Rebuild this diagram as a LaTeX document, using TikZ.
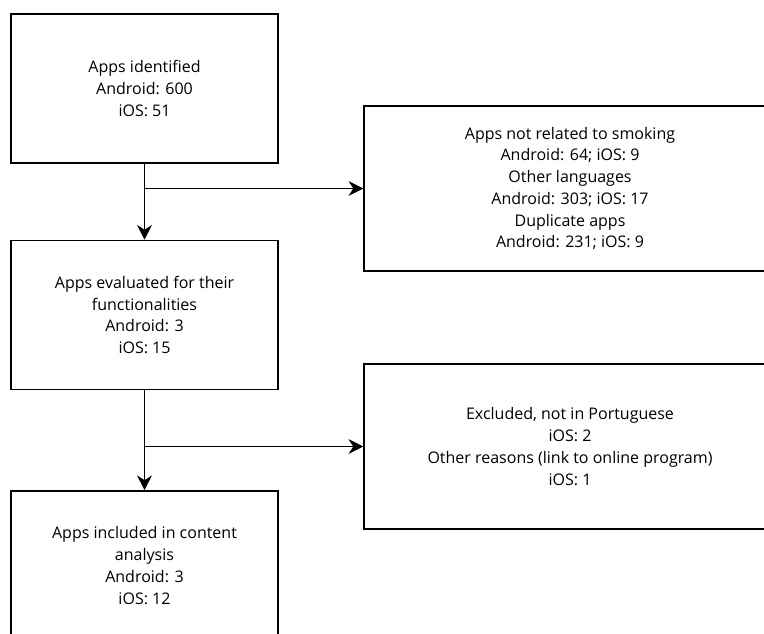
\documentclass[tikz,border=0pt]{standalone}
\usepackage{fontspec}
\setmainfont{Open Sans}
\usetikzlibrary{arrows.meta,positioning}

\begin{document}
\begin{tikzpicture}[x=0.75pt,y=-0.75pt,>={Stealth[length=11pt,width=11pt,inset=3.5pt]}, every node/.style={font=\fontsize{12}{16.3}\selectfont}]
\tikzstyle{box}=[draw,line width=1.1pt,align=center,minimum width=200pt,minimum height=111.75pt]
\tikzstyle{sidebox}=[box,minimum width=309pt,minimum height=123.75pt]
\useasboundingbox (0,0) rectangle (764,633);
\clip (0,0) rectangle (764,633);
\node[box] (ident) at (144.5,88.5) {Apps identified\\Android: 600\\iOS: 51};
\node[box,below=57pt of ident] (eval) {Apps evaluated for their\\functionalities\\Android: 3\\iOS: 15};
\node[box,below=75pt of eval] (incl) {Apps included in content\\analysis\\Android: 3\\iOS: 12};
\node[sidebox] (excl1) at (570,188.5) {Apps not related to smoking\\Android: 64; iOS: 9\\Other languages\\Android: 303; iOS: 17\\Duplicate apps\\Android: 231; iOS: 9};
\node[sidebox] (excl2) at (570,446.5) {Excluded, not in Portuguese\\iOS: 2\\Other reasons (link to online program)\\iOS: 1};
\draw[->,line width=1.1pt] (ident) -- (eval);
\draw[->,line width=1.1pt] (ident.south |- excl1.west) -- (excl1.west);
\draw[->,line width=1.1pt] (eval) -- (incl);
\draw[->,line width=1.1pt] (eval.south |- excl2.west) -- (excl2.west);
\end{tikzpicture}
\end{document}
